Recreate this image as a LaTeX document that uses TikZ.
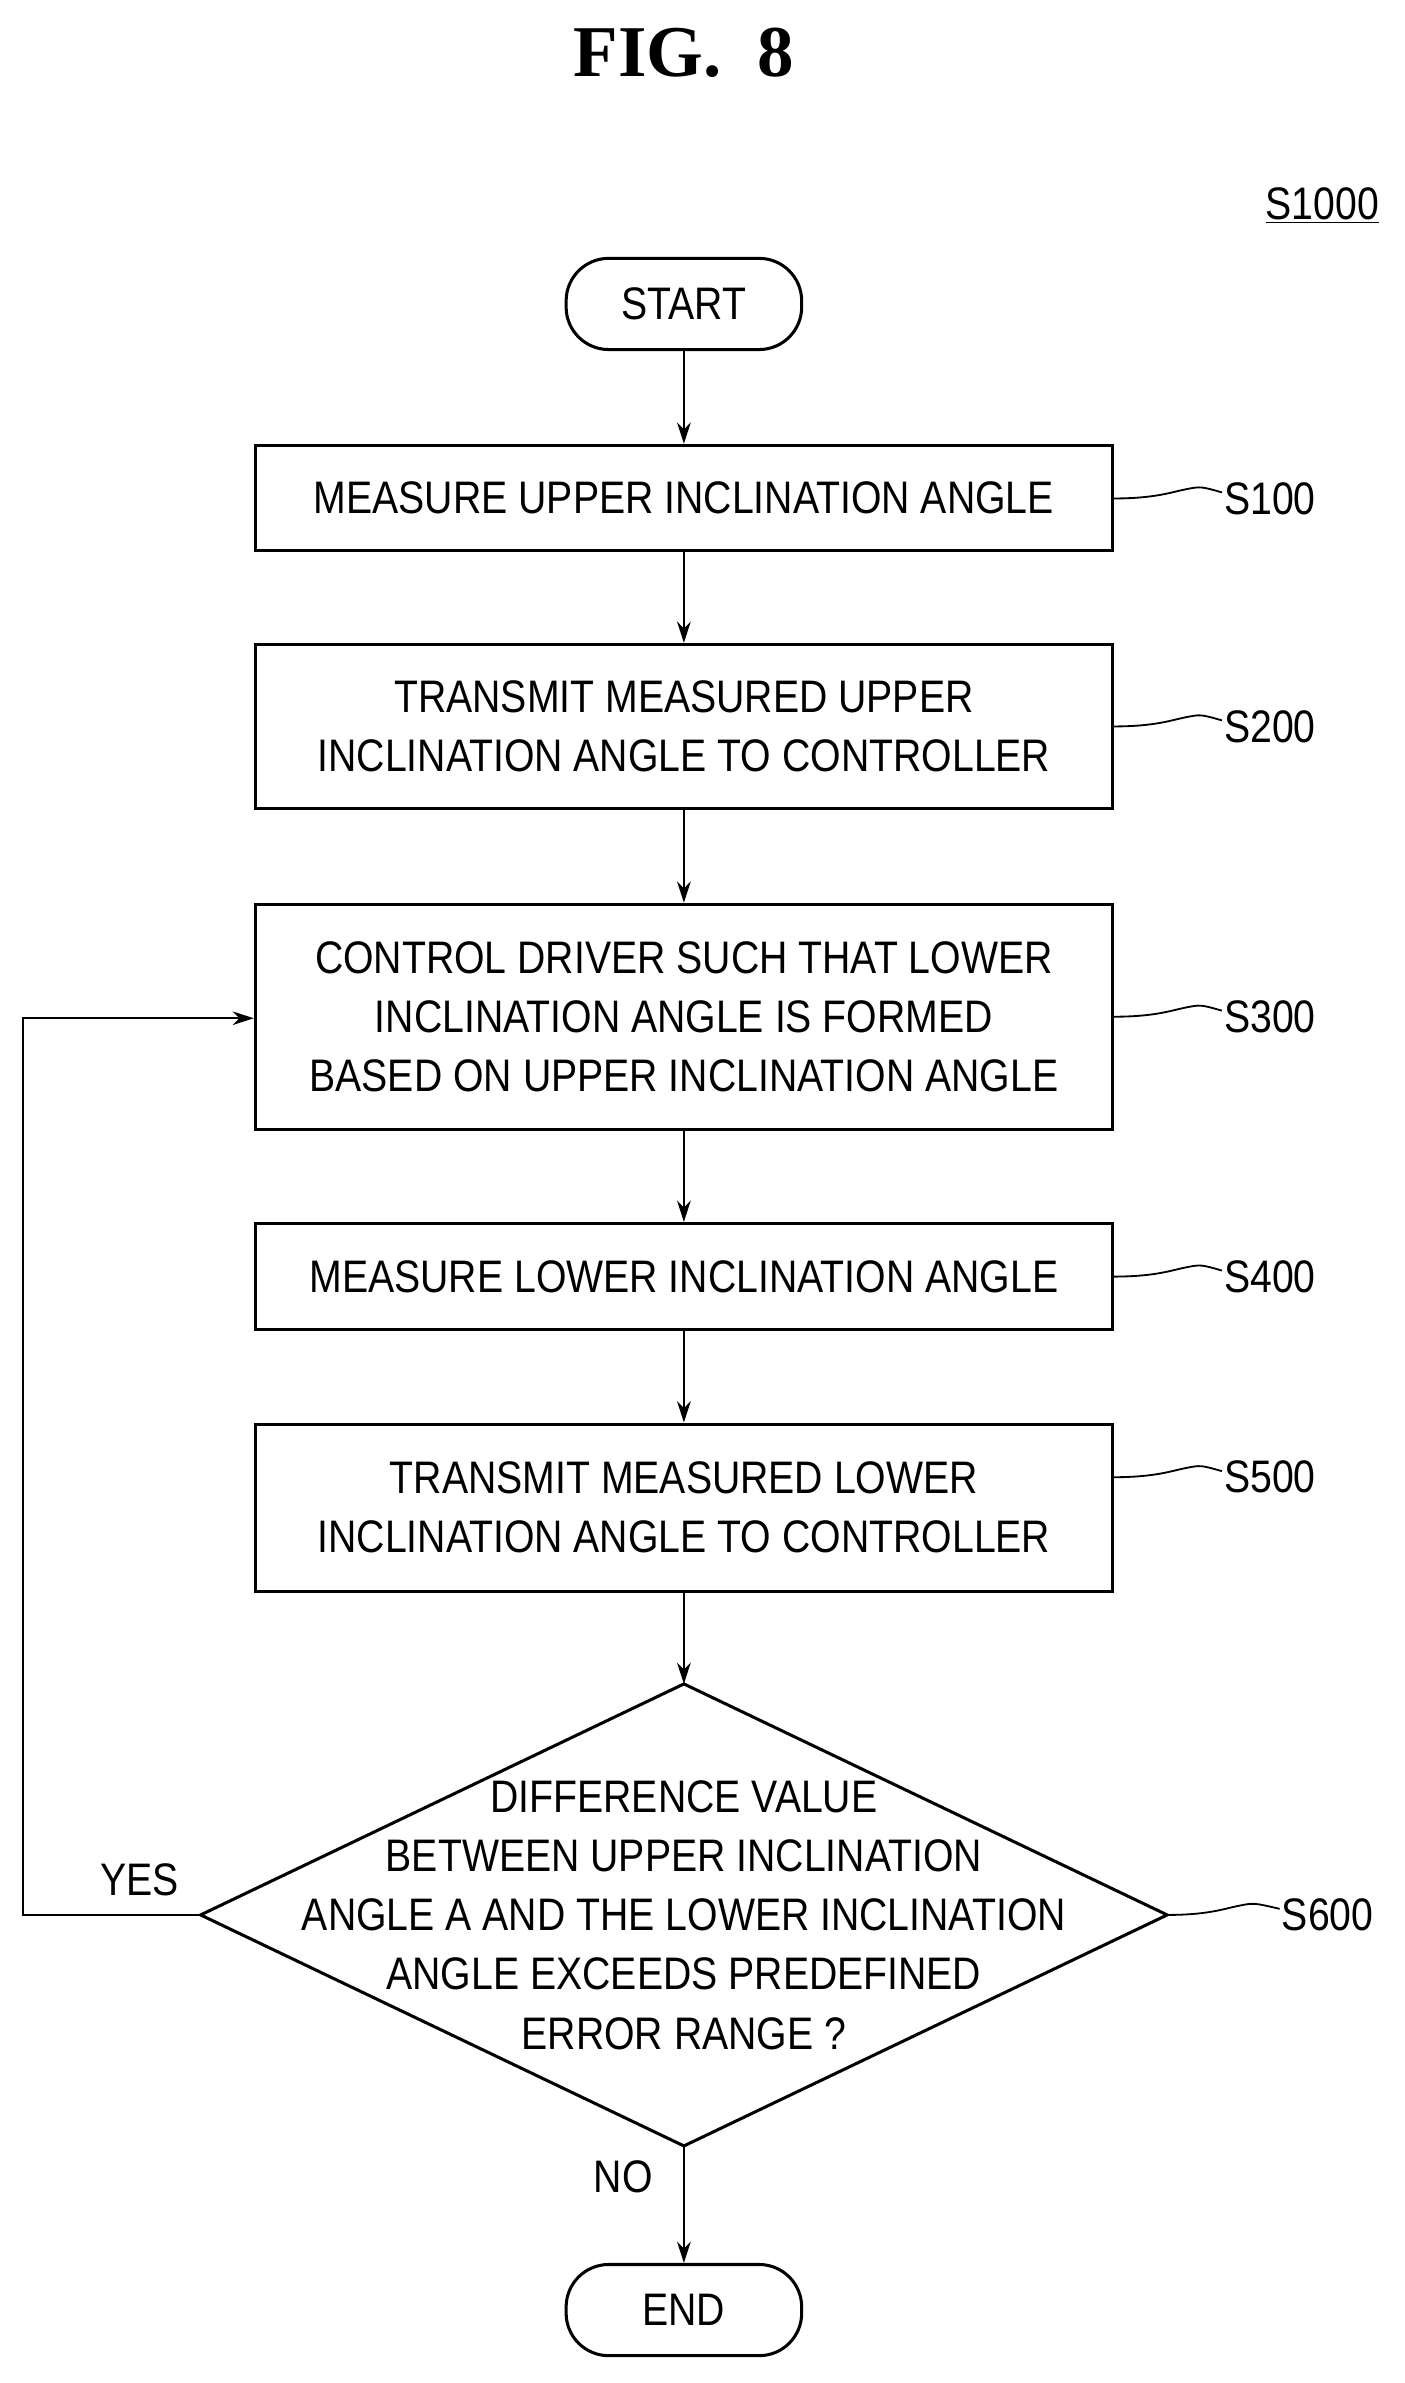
\documentclass[tikz,border=0pt]{standalone}
\usepackage{fontspec}
\setmainfont{Liberation Sans}[FakeStretch=0.86]
\newfontfamily\titlefont{Liberation Serif}
\usetikzlibrary{shapes.geometric,arrows.meta}
\begin{document}
\begin{tikzpicture}[x=1pt,y=-1pt,
 box/.style={draw,line width=2pt,align=center,font=\fontsize{30}{39}\selectfont},
 term/.style={box,rounded corners=28pt},
 arr/.style={line width=1.5pt,-{Stealth[length=14pt,width=9pt]}},
 lab/.style={font=\fontsize{30}{36}\selectfont,anchor=west},
 sq/.style={line width=1.2pt}]
\useasboundingbox (0,0) rectangle (924,1568);
\node[font=\titlefont\bfseries\fontsize{48}{52}\selectfont] (title) at (450,35) {FIG.\ \ 8};
\node[font=\fontsize{30}{34}\selectfont] (s1000) at (870,135) {\underline{S1000}};
\node[term,minimum width=155pt,minimum height=60pt] (start) at (450,200) {START};
\node[box,minimum width=564pt,minimum height=69pt] (b1) at (450,327.5) {MEASURE UPPER INCLINATION ANGLE};
\node[box,minimum width=564pt,minimum height=108pt] (b2) at (450,478) {TRANSMIT MEASURED UPPER\\INCLINATION ANGLE TO CONTROLLER};
\node[box,minimum width=564pt,minimum height=148pt] (b3) at (450,669) {CONTROL DRIVER SUCH THAT LOWER\\INCLINATION ANGLE IS FORMED\\BASED ON UPPER INCLINATION ANGLE};
\node[box,minimum width=564pt,minimum height=70pt] (b4) at (450,840) {MEASURE LOWER INCLINATION ANGLE};
\node[box,minimum width=564pt,minimum height=110pt] (b5) at (450,992) {TRANSMIT MEASURED LOWER\\INCLINATION ANGLE TO CONTROLLER};
\coordinate (dt) at (450,1108); \coordinate (db) at (450,1412);
\coordinate (dl) at (132,1260); \coordinate (dr) at (768,1260);
\draw[line width=2pt] (dt) -- (dr) -- (db) -- (dl) -- cycle;
\node[align=center,font=\fontsize{30}{39}\selectfont] (dtext) at (450,1260) {DIFFERENCE VALUE\\BETWEEN UPPER INCLINATION\\ANGLE A AND THE LOWER INCLINATION\\ANGLE EXCEEDS PREDEFINED\\ERROR RANGE ?};
\node[term,minimum width=155pt,minimum height=60pt] (end) at (450,1520) {END};
\draw[arr] (start) -- (b1);
\draw[arr] (b1) -- (b2);
\draw[arr] (b2) -- (b3);
\draw[arr] (b3) -- (b4);
\draw[arr] (b4) -- (b5);
\draw[arr] (b5) -- (dt);
\draw[arr] (db) -- (end);
\coordinate (c1) at (15,1260); \coordinate (c2) at (15,670);
\draw[arr] (dl) -- (c1) -- (c2) -- (b3.west|-c2);
\node[font=\fontsize{30}{36}\selectfont] (yes) at (92,1237) {YES};
\node[font=\fontsize{30}{36}\selectfont] (no) at (410,1432) {NO};
\foreach \n/\y/\t/\xs in {b1/328/S100/732,b2/478/S200/732,b3/669/S300/732,b4/840/S400/732,b5/972/S500/732}{
 \node[lab] (l\t) at (802,\y) {\t};
 \draw[sq] (\xs,\y) .. controls (760,\y) and (770,\y-4) .. (780,\y-6) .. controls (790,\y-8) .. (804,\y-4);
}
\node[lab] (l600) at (840,1260) {S600};
\draw[sq] (dr) .. controls (795,1260) and (805,1256) .. (815,1254) .. controls (825,1252) .. (842,1256);
\end{tikzpicture}
\end{document}
